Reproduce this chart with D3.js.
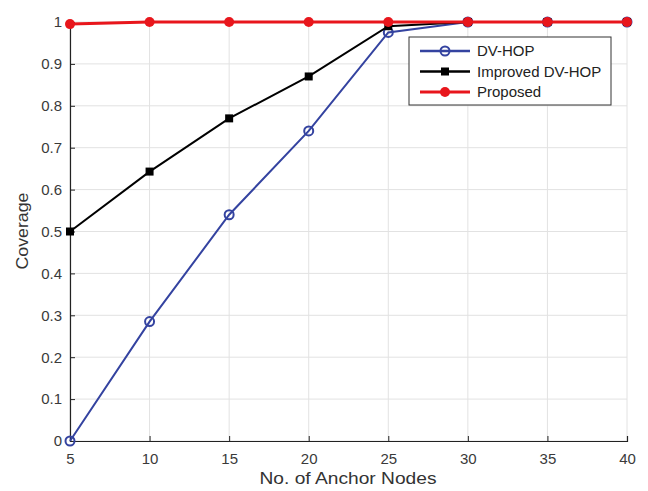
<!DOCTYPE html>
<html>
<head>
<meta charset="utf-8">
<script src="https://cdn.jsdelivr.net/npm/d3@7"></script>
<style>
  body { margin: 0; background: #fff; }
  text { font-family: "Liberation Sans", Arial, sans-serif; }
</style>
</head>
<body>
<script>
const anchors = [5, 10, 15, 20, 25, 30, 35, 40];
const dvhop = [0, 0.285, 0.54, 0.74, 0.975, 1, 1, 1];
const improved = [0.5, 0.643, 0.77, 0.87, 0.99, 1, 1, 1];
const proposed = [0.995, 1, 1, 1, 1, 1, 1, 1];
const yTicks = [0, 0.1, 0.2, 0.3, 0.4, 0.5, 0.6, 0.7, 0.8, 0.9, 1];
const seriesNames = ["DV-HOP", "Improved DV-HOP", "Proposed"];

function main() {
  const width = 648, height = 491;
  const m = {left: 70, right: 21, top: 22, bottom: 50};

  const svg = d3.select("body").append("svg")
    .attr("width", width)
    .attr("height", height);

  const x = d3.scaleLinear().domain([5, 40]).range([m.left, width - m.right]);
  const y = d3.scaleLinear().domain([0, 1]).range([height - m.bottom, m.top]);

  // grid
  svg.append("g")
    .selectAll("line")
    .data(anchors)
    .join("line")
      .attr("x1", d => x(d)).attr("x2", d => x(d))
      .attr("y1", y(0)).attr("y2", y(1) - 2)
      .attr("stroke", "#e2e2e2");
  svg.append("g")
    .selectAll("line")
    .data(yTicks)
    .join("line")
      .attr("x1", x(5)).attr("x2", x(40))
      .attr("y1", d => y(d)).attr("y2", d => y(d))
      .attr("stroke", "#e2e2e2");

  const xAxis = svg.append("g")
    .attr("transform", `translate(0,${y(0)})`)
    .call(d3.axisBottom(x).tickValues(anchors).tickSize(-5).tickPadding(12));
  const yAxis = svg.append("g")
    .attr("transform", `translate(${x(5)},0)`)
    .call(d3.axisLeft(y).tickValues(yTicks).tickFormat(d3.format("~g")).tickSize(-5).tickPadding(8));

  [xAxis, yAxis].forEach(a => {
    a.select(".domain").attr("stroke", "#222").attr("stroke-width", 1.2);
    a.selectAll(".tick line").attr("stroke", "#222");
    a.selectAll(".tick text").attr("fill", "#3a3a3a").style("font-size", "15px");
  });

  svg.append("text")
    .attr("x", 348)
    .attr("y", 484)
    .attr("text-anchor", "middle")
    .attr("fill", "#333")
    .style("font-size", "17px")
    .attr("textLength", 177)
    .attr("lengthAdjust", "spacingAndGlyphs")
    .text("No. of Anchor Nodes");

  svg.append("text")
    .attr("transform", `translate(28,231) rotate(-90)`)
    .attr("text-anchor", "middle")
    .attr("fill", "#333")
    .style("font-size", "17px")
    .attr("textLength", 77)
    .attr("lengthAdjust", "spacingAndGlyphs")
    .text("Coverage");

  const series = [
    {name: seriesNames[0], values: dvhop, color: "#3443a0", marker: "open"},
    {name: seriesNames[1], values: improved, color: "#000000", marker: "square"},
    {name: seriesNames[2], values: proposed, color: "#e8161c", marker: "dot"}
  ];

  const line = d3.line().x((d, i) => x(anchors[i])).y(d => y(d));

  function drawMarker(g, s, cx, cy) {
    if (s.marker === "open") {
      g.append("circle").attr("cx", cx).attr("cy", cy).attr("r", 4.5)
        .attr("fill", "none").attr("stroke", s.color).attr("stroke-width", 2);
    } else if (s.marker === "square") {
      g.append("rect").attr("x", cx - 4).attr("y", cy - 4).attr("width", 8).attr("height", 8)
        .attr("fill", s.color);
    } else {
      g.append("circle").attr("cx", cx).attr("cy", cy).attr("r", 5)
        .attr("fill", s.color);
    }
  }

  series.forEach(s => {
    const g = svg.append("g");
    g.append("path")
      .datum(s.values)
      .attr("d", line)
      .attr("fill", "none")
      .attr("stroke", s.color)
      .attr("stroke-width", s.marker === "dot" ? 3 : 2);
    s.values.forEach((v, i) => drawMarker(g, s, x(anchors[i]), y(v)));
  });

  // legend
  const lg = svg.append("g").attr("transform", "translate(409,37)");
  lg.append("rect").attr("width", 202).attr("height", 68)
    .attr("fill", "#fff").attr("stroke", "#333").attr("stroke-width", 1);
  series.forEach((s, i) => {
    const ly = 14 + i * 20.5;
    lg.append("line").attr("x1", 11).attr("x2", 61).attr("y1", ly).attr("y2", ly)
      .attr("stroke", s.color).attr("stroke-width", s.marker === "dot" ? 3 : 2.5);
    drawMarker(lg, s, 36, ly);
    lg.append("text").attr("x", 68).attr("y", ly + 5)
      .attr("fill", "#222").style("font-size", "15px").text(s.name);
  });
}

window.addEventListener("load", main);
</script>
</body>
</html>
